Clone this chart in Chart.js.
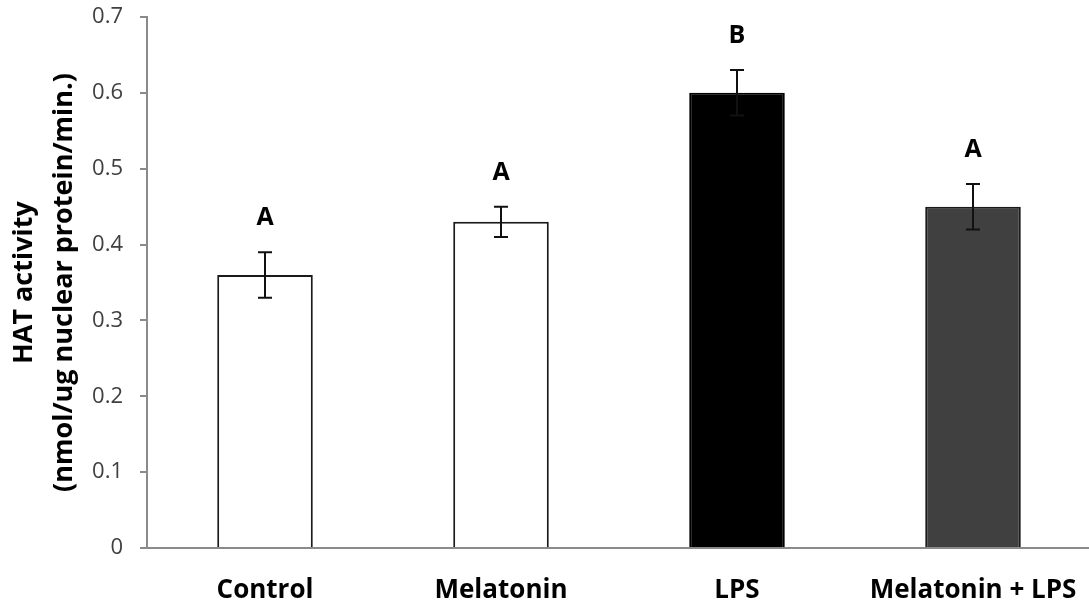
<!DOCTYPE html>
<html>
<head>
<meta charset="utf-8">
<script src="https://cdn.jsdelivr.net/npm/chart.js@4"></script>
<style>
  html, body { margin: 0; padding: 0; background: #fff; overflow: hidden; }
  #wrap { width: 1089px; height: 607px; overflow: hidden; }
</style>
</head>
<body>
<div id="wrap"><canvas id="chart" width="1091" height="607"></canvas></div>
<script>
// --- DATA ---
const groups = ['Control', 'Melatonin', 'LPS', 'Melatonin + LPS'];
const hatActivity = [0.36, 0.43, 0.60, 0.45];
const hatError = [0.03, 0.02, 0.03, 0.03];
const sigLetters = ['A', 'A', 'B', 'A'];
const yTicks = [0, 0.1, 0.2, 0.3, 0.4, 0.5, 0.6, 0.7];

const fills = ['#ffffff', '#ffffff', '#000000', '#404040'];
const borders = ['#1a1a1a', '#1a1a1a', '#000000', '#1a1a1a'];

const FONT = '"Open Sans", Lato, sans-serif';

// error bars + letters drawn on top of the bars
const errorBars = {
  id: 'errorBars',
  afterDatasetsDraw(chart) {
    const ctx = chart.ctx;
    const meta = chart.getDatasetMeta(0);
    const y = chart.scales.y;
    ctx.save();
    ctx.strokeStyle = '#111';
    ctx.lineWidth = 2;
    meta.data.forEach((bar, i) => {
      const x = bar.x;
      const top = y.getPixelForValue(hatActivity[i] + hatError[i]);
      const bot = y.getPixelForValue(hatActivity[i] - hatError[i]);
      ctx.beginPath();
      ctx.moveTo(x, top); ctx.lineTo(x, bot);
      ctx.moveTo(x - 7, top); ctx.lineTo(x + 7, top);
      ctx.moveTo(x - 7, bot); ctx.lineTo(x + 7, bot);
      ctx.stroke();
      ctx.fillStyle = '#000';
      ctx.font = 'bold 25px ' + FONT;
      ctx.textAlign = 'center';
      ctx.textBaseline = 'middle';
      ctx.fillText(sigLetters[i], x, top - 34);
    });
    ctx.restore();
  }
};

const ctx = document.getElementById('chart').getContext('2d');
new Chart(ctx, {
  type: 'bar',
  data: {
    labels: groups,
    datasets: [{
      data: hatActivity,
      backgroundColor: fills,
      borderColor: borders,
      borderWidth: 2,
      borderSkipped: 'bottom',
      categoryPercentage: 1,
      barPercentage: 0.405
    }]
  },
  options: {
    responsive: false,
    animation: false,
    layout: { padding: { top: 17, right: 0, bottom: 0, left: 0 } },
    plugins: { legend: { display: false }, tooltip: { enabled: false } },
    scales: {
      x: {
        afterFit: s => { s.height = 59; s.paddingLeft = 0; s.paddingRight = 0; },
        grid: { display: false, drawTicks: false },
        border: { display: true, color: '#8a8a8a', width: 2 },
        ticks: { color: '#000', padding: 27, maxRotation: 0, font: { family: FONT, size: 26, weight: 'bold' } }
      },
      y: {
        min: 0, max: 0.7,
        afterBuildTicks: s => { s.ticks = yTicks.map(v => ({ value: v })); },
        afterFit: s => { s.width = 147; s.paddingTop = 0; s.paddingBottom = 0; },
        grid: { drawOnChartArea: false, drawTicks: true, tickLength: 7, color: '#8a8a8a', lineWidth: 2 },
        border: { display: true, color: '#8a8a8a', width: 2 },
        ticks: {
          color: '#404040', padding: 17,
          font: { family: FONT, size: 22 },
          callback: v => v === 0 ? '0' : v.toFixed(1)
        },
        title: {
          display: true,
          text: ['HAT activity', '(nmol/ug nuclear protein/min.)'],
          color: '#000',
          font: { family: FONT, size: 27, weight: 'bold', lineHeight: 1.48 },
          padding: { top: 4, bottom: 0 }
        }
      }
    }
  },
  plugins: [errorBars]
});
</script>
</body>
</html>
